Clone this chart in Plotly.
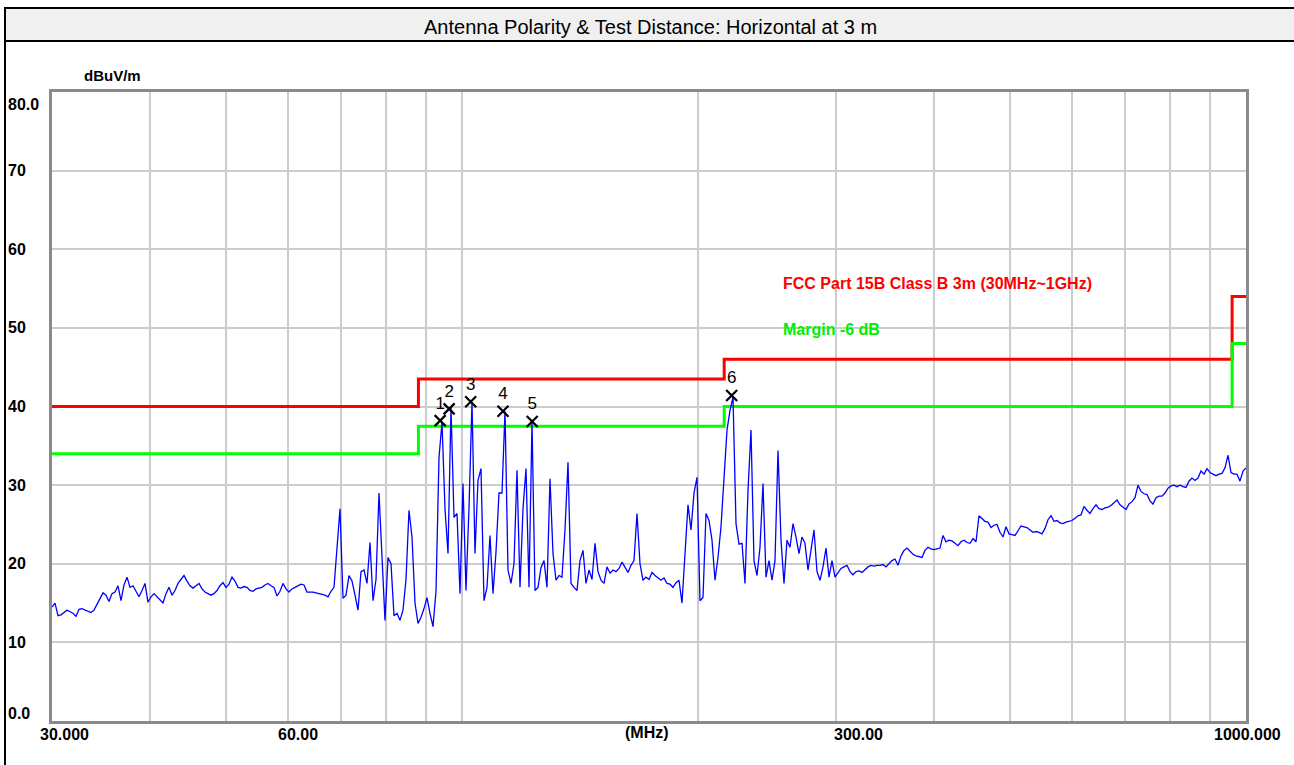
import numpy as np
import plotly.graph_objects as go

# ---------------- data ----------------
f_start, f_stop = 30.0, 1000.0
level = [
    14.5, 15.0, 13.4, 13.5, 13.8, 14.1, 13.9, 13.7, 13.3, 14.2,
    14.3, 14.1, 13.9, 13.8, 14.1, 14.8, 15.6, 16.3, 16.0, 15.2,
    16.2, 16.4, 17.2, 15.3, 17.3, 18.3, 17.0, 17.2, 16.5, 15.8,
    16.6, 17.5, 15.1, 15.8, 16.2, 15.8, 15.5, 15.0, 16.2, 17.0,
    16.0, 16.6, 17.5, 18.0, 18.5, 17.8, 17.2, 16.9, 17.2, 17.5,
    16.8, 16.4, 16.2, 16.0, 16.2, 16.6, 17.2, 17.6, 17.0, 17.4,
    18.3, 17.8, 17.0, 16.9, 17.1, 17.0, 16.6, 16.5, 16.8, 16.9,
    17.0, 17.3, 17.5, 17.2, 17.0, 15.9, 16.5, 17.5, 16.8, 16.4,
    16.8, 17.0, 17.2, 17.4, 17.3, 16.4, 16.4, 16.4, 16.3, 16.2,
    16.1, 16.0, 15.8, 16.5, 17.0, 22.3, 27.0, 15.6, 16.0, 18.5,
    17.8, 16.0, 14.1, 19.0, 19.2, 17.5, 22.7, 15.3, 18.0, 29.0,
    21.7, 12.8, 20.8, 20.0, 13.4, 13.7, 12.8, 14.1, 18.0, 26.8,
    23.4, 15.0, 12.4, 13.2, 14.3, 15.7, 13.7, 12.0, 16.5, 33.5,
    38.0, 27.0, 21.3, 39.8, 25.9, 26.4, 16.2, 30.2, 16.6, 27.1,
    40.6, 21.3, 30.6, 32.1, 15.3, 17.0, 23.6, 16.2, 21.5, 29.0,
    29.0, 39.4, 19.2, 17.5, 20.0, 31.9, 17.0, 27.0, 32.1, 17.0,
    38.1, 16.6, 17.0, 19.5, 20.4, 17.0, 30.8, 21.3, 17.9, 18.5,
    18.3, 24.3, 32.9, 17.5, 17.0, 16.6, 20.4, 21.7, 17.5, 19.2,
    18.0, 22.6, 19.0, 17.9, 17.5, 19.6, 18.8, 19.2, 19.0, 19.4,
    20.2, 19.5, 18.9, 19.8, 20.4, 26.4, 20.0, 17.9, 18.3, 18.0,
    18.9, 18.5, 18.2, 17.9, 18.2, 17.5, 17.4, 17.0, 17.6, 17.9,
    15.0, 22.1, 27.5, 24.3, 29.0, 31.0, 15.3, 15.7, 26.4, 25.5,
    23.0, 17.9, 20.8, 24.7, 31.5, 37.0, 39.5, 41.2, 25.1, 22.5,
    22.6, 17.5, 29.3, 37.0, 20.4, 18.5, 22.1, 30.2, 18.3, 20.4,
    17.9, 20.4, 34.4, 23.0, 17.5, 23.0, 22.1, 25.1, 23.4, 21.3,
    23.4, 22.6, 19.2, 22.1, 24.3, 19.0, 17.9, 19.6, 22.0, 18.3,
    20.4, 18.3, 18.8, 19.4, 19.6, 19.8, 19.0, 18.6, 19.0, 19.1,
    18.9, 19.3, 19.6, 19.8, 19.7, 19.8, 19.8, 19.9, 19.6, 20.0,
    20.4, 20.6, 19.8, 21.0, 21.7, 22.0, 21.6, 21.2, 21.0, 20.9,
    20.8, 21.7, 22.1, 21.9, 21.8, 21.9, 22.0, 23.6, 22.8, 23.0,
    22.9, 22.6, 22.3, 22.8, 23.0, 22.7, 22.6, 23.2, 22.8, 26.1,
    25.8, 25.4, 25.3, 24.6, 24.9, 25.0, 24.0, 23.4, 24.7, 23.8,
    23.7, 23.6, 24.2, 24.8, 24.7, 24.6, 24.3, 24.0, 24.1, 24.0,
    23.8, 24.5, 25.6, 26.1, 25.4, 25.5, 25.2, 25.1, 25.3, 25.4,
    25.5, 25.8, 26.1, 26.2, 27.3, 26.8, 26.4, 27.0, 27.5, 27.0,
    26.9, 27.1, 27.2, 27.4, 27.8, 28.1, 27.5, 27.2, 26.9, 27.6,
    27.9, 28.4, 30.0, 29.2, 28.9, 28.8, 28.0, 27.6, 28.4, 28.6,
    28.6, 29.0, 29.6, 29.9, 30.0, 29.8, 30.0, 29.8, 29.7, 30.5,
    30.9, 30.6, 30.9, 31.8, 31.4, 32.1, 31.6, 31.4, 31.2, 31.4,
    31.5, 32.2, 33.8, 31.6, 31.4, 31.4, 30.5, 31.8, 32.2,
]
freq = np.geomspace(f_start, f_stop, len(level))  # sweep points

limit_freq = [30, 88, 216, 960, 1000]
limit_level = [40.0, 43.5, 46.0, 54.0, 54.0]
margin_level = [34.0, 37.5, 40.0, 48.0, 48.0]

marker_freq = [93.8, 96.3, 102.6, 112.8, 122.9, 220.8]
marker_level = [38.2, 39.7, 40.6, 39.4, 38.1, 41.4]
marker_label = ["1", "2", "3", "4", "5", "6"]

grid_x = [40, 50, 60, 70, 80, 90, 100, 200, 300, 400, 500, 600, 700, 800, 900]
y_ticks = [80, 70, 60, 50, 40, 30, 20, 10, 0]
y_ticktext = ["80.0", "70", "60", "50", "40", "30", "20", "10", "0.0"]
x_tickvals = [30, 60, 300, 1000]
x_ticktext = ["30.000", "60.00", "300.00", "1000.000"]

title_text = "Antenna Polarity & Test Distance: Horizontal at 3 m"
limit_name = "FCC Part 15B Class B 3m (30MHz~1GHz)"
margin_name = "Margin -6 dB"

# ---------------- figure ----------------
W, H = 1294, 765
L, R, T, B = 52, 48, 92, 44
ph = H - T - B
pw = W - L - R

def py(pix):  # pixel row -> paper y
    return 1 + (T - pix) / ph

def px(pix):  # pixel column -> paper x
    return (pix - L) / pw

fig = go.Figure()
fig.add_trace(go.Scatter(x=limit_freq, y=limit_level, mode="lines", line_shape="hv",
                         line=dict(color="#ff0000", width=3), hoverinfo="skip"))
fig.add_trace(go.Scatter(x=limit_freq, y=margin_level, mode="lines", line_shape="hv",
                         line=dict(color="#00ff00", width=3), hoverinfo="skip"))
fig.add_trace(go.Scatter(x=freq, y=level, mode="lines",
                         line=dict(color="#0000ff", width=1.3)))
fig.add_trace(go.Scatter(x=marker_freq, y=marker_level, mode="markers+text",
                         text=marker_label, textposition="top center",
                         textfont=dict(family="Liberation Sans", size=17, color="#000000"),
                         marker=dict(symbol="x-thin", size=11,
                                     line=dict(color="#000000", width=2.2))))

fig.update_xaxes(type="log", range=[np.log10(f_start), np.log10(f_stop)],
                 tickvals=grid_x, showticklabels=False, ticks="",
                 showgrid=True, gridcolor="#cccccc", gridwidth=1.5,
                 showline=True, mirror=True, linecolor="#8a8a8a", linewidth=3,
                 zeroline=False)
fig.update_yaxes(range=[0, 80], tickvals=[10, 20, 30, 40, 50, 60, 70],
                 showticklabels=False, ticks="",
                 showgrid=True, gridcolor="#cccccc", gridwidth=1.5,
                 showline=True, mirror=True, linecolor="#8a8a8a", linewidth=3,
                 zeroline=False)

lab_font = dict(family="Liberation Sans", size=16, color="#000000")
ann = []
for v, t in zip(y_ticks, y_ticktext):
    ys = -12 if v == 80 else (8 if v == 0 else 0)
    ann.append(dict(x=px(6), xref="paper", y=v, yref="y", yshift=ys, text="<b>" + t + "</b>",
                    showarrow=False, xanchor="left", yanchor="middle", font=lab_font))
x_shifts = [12, 10, 22, 1]
for v, t, s in zip(x_tickvals, x_ticktext, x_shifts):
    ann.append(dict(x=np.log10(v), xref="x", y=0, yref="paper", xshift=s, yshift=-3,
                    text="<b>" + t + "</b>", showarrow=False, xanchor="center",
                    yanchor="top", font=lab_font))
ann.append(dict(x=px(647), xref="paper", y=0, yref="paper", yshift=-1, text="<b>(MHz)</b>",
                showarrow=False, xanchor="center", yanchor="top", font=lab_font))
ann.append(dict(x=px(82), xref="paper", y=py(75), yref="paper", text="<b>dBuV/m</b>",
                showarrow=False, xanchor="left", yanchor="middle",
                font=dict(family="Liberation Sans", size=15, color="#000000")))
ann.append(dict(x=px(781), xref="paper", y=py(283), yref="paper", text="<b>" + limit_name + "</b>",
                showarrow=False, xanchor="left", yanchor="middle",
                font=dict(family="Liberation Sans", size=16, color="#ff0000")))
ann.append(dict(x=px(781), xref="paper", y=py(329), yref="paper", text="<b>" + margin_name + "</b>",
                showarrow=False, xanchor="left", yanchor="middle",
                font=dict(family="Liberation Sans", size=16, color="#00ee00")))
ann.append(dict(x=px(650), xref="paper", y=py(27), yref="paper", text=title_text,
                showarrow=False, xanchor="center", yanchor="middle",
                font=dict(family="Liberation Sans", size=20, color="#000000")))

shapes = [
    dict(type="rect", xref="paper", yref="paper", x0=px(5), x1=px(1300), y0=py(41), y1=py(8),
         fillcolor="#f0f0f0", line=dict(color="#000000", width=2), layer="below"),
    dict(type="line", xref="paper", yref="paper", x0=px(5), x1=px(5), y0=py(8), y1=py(770),
         line=dict(color="#000000", width=2)),
]

fig.update_layout(width=W, height=H, margin=dict(l=L, r=R, t=T, b=B),
                  paper_bgcolor="#ffffff", plot_bgcolor="#ffffff",
                  showlegend=False, annotations=ann, shapes=shapes)

fig.write_html("out.html", config={"displayModeBar": False},
               post_script="document.body.style.margin='0';document.body.style.overflow='hidden';")
